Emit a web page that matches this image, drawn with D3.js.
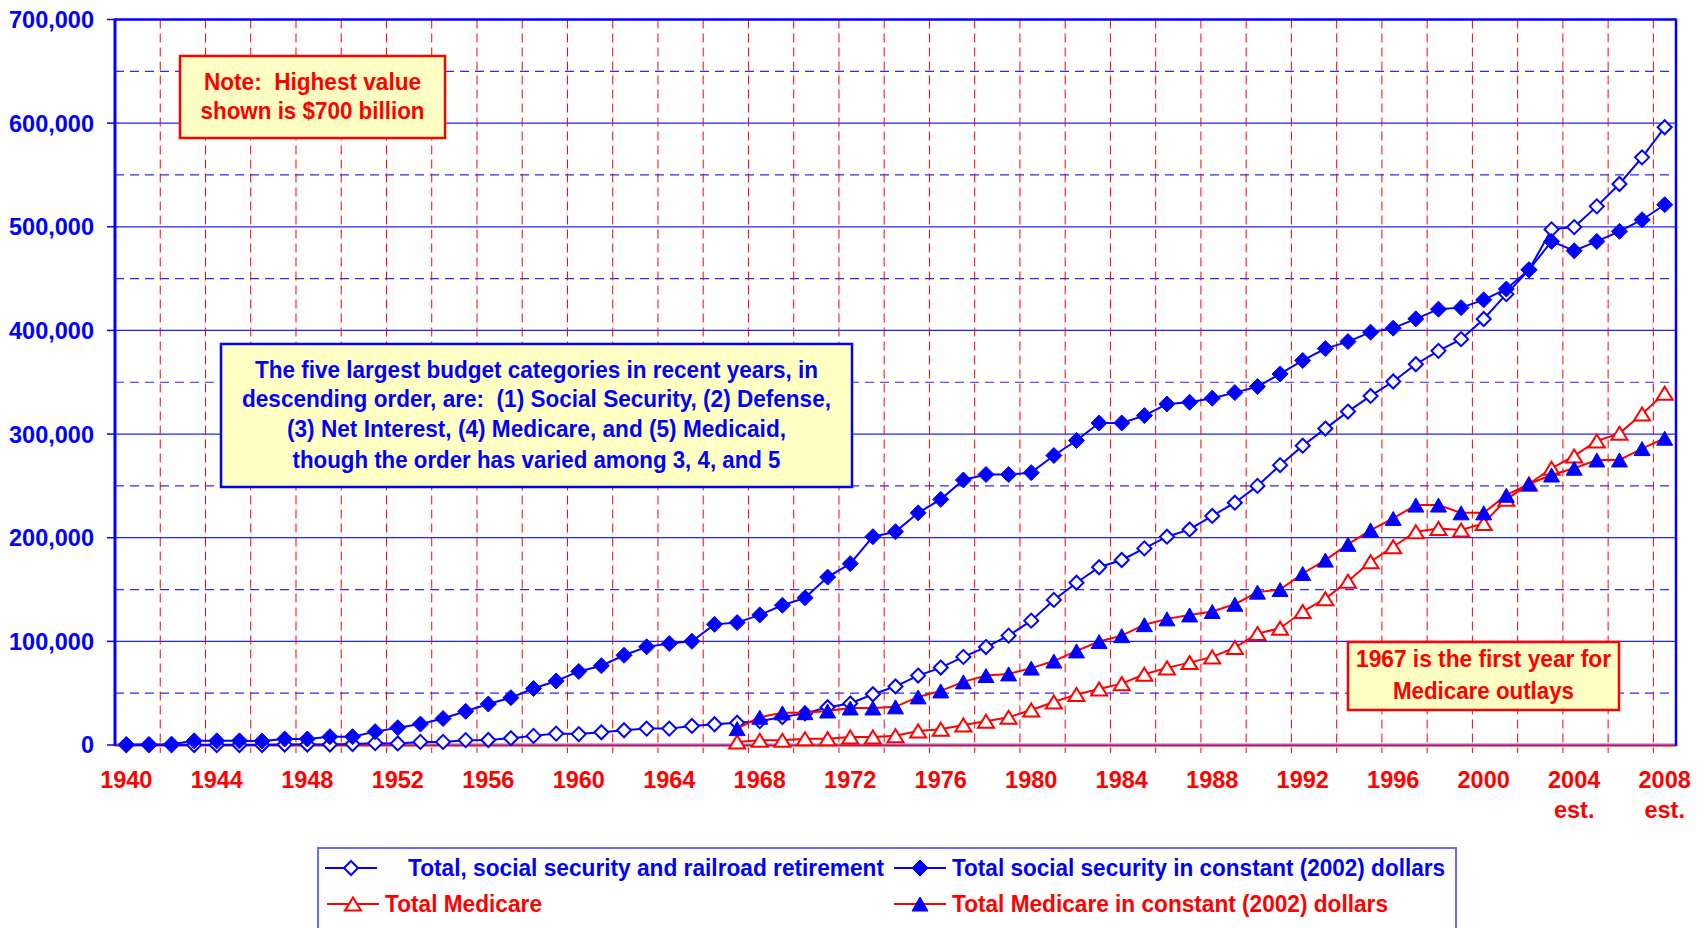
<!DOCTYPE html>
<html>
<head>
<meta charset="utf-8">
<script src="https://cdn.jsdelivr.net/npm/d3@7"></script>
<style>
body { margin: 0; background: #fff; }
text { font-family: "Liberation Sans", Arial, sans-serif; font-weight: bold; white-space: pre; }
</style>
</head>
<body>
<div id="chart"></div>
<script>
// data, millions of dollars
var years = d3.range(1940, 2009);
var medYears = d3.range(1967, 2009);

var ssTotal = [0, 0, 0, 0, 0, 0, 0, 500, 500, 500,
  1000, 1800, 1500, 3000, 3000, 4700, 4800, 6500, 8800, 11000,
  10500, 12300, 14200, 15800, 15800, 18400, 20000, 21500, 23000, 27000,
  30500, 36500, 40000, 49000, 56500, 67000, 74700, 85000, 94500, 105500,
  120000, 140000, 156600, 171500, 178500, 189700, 201000, 208000, 221000, 233800,
  250000, 270000, 288800, 305300, 321700, 336800, 350700, 367400, 380300, 391600,
  411000, 435000, 458500, 497500, 499700, 519700, 541300, 567000, 596000];

var ssConst = [500, 500, 800, 4000, 4000, 4000, 3800, 5800, 5800, 8000,
  8000, 12900, 16700, 20200, 25500, 32500, 39500, 45700, 54500, 61800,
  71000, 76500, 86600, 94700, 97900, 100100, 116400, 118100, 125500, 134800,
  142000, 162000, 175000, 201000, 205800, 224000, 237000, 255700, 261000, 261000,
  262800, 279300, 293800, 310700, 310700, 317800, 329000, 330700, 334600, 340000,
  345800, 358000, 371000, 382500, 389200, 398300, 402200, 411200, 420500, 422000,
  429500, 440000, 458500, 485900, 476900, 485900, 495600, 506800, 521300];

var medTotal = [2900, 4500, 4500, 6100, 6100, 7700, 7700, 9000, 13500, 15200,
  19300, 23000, 26700, 33800, 41500, 48800, 54100, 59200, 68300, 74400,
  79500, 85000, 94000, 107500, 112700, 128800, 141200, 158000, 176800, 191300,
  205800, 209000, 207400, 213800, 237000, 251800, 267000, 278900, 293300, 300700,
  319400, 339400];

var medConst = [15800, 26800, 31000, 31200, 32800, 35700, 35700, 36800, 46400, 52200,
  60900, 67000, 68600, 74200, 81000, 90800, 99800, 105500, 116100, 121700,
  125500, 128800, 135800, 147500, 150000, 165500, 178400, 193600, 207400, 218600,
  231500, 231500, 224000, 224000, 241000, 251800, 260500, 267000, 275000, 275000,
  286000, 296000];

var xLabels = d3.range(1940, 2009, 4);
var estYears = [2004, 2008];
var yTicks = [0, 100000, 200000, 300000, 400000, 500000, 600000, 700000];
var yMinor = [50000, 150000, 250000, 350000, 450000, 550000, 650000];

var legendNames = ['Total, social security and railroad retirement',
  'Total social security in constant (2002) dollars',
  'Total Medicare',
  'Total Medicare in constant (2002) dollars'];

var noteLines = ['Note:  Highest value', 'shown is $700 billion'];
var infoLines = ['The five largest budget categories in recent years, in',
  'descending order, are:  (1) Social Security, (2) Defense,',
  '(3) Net Interest, (4) Medicare, and (5) Medicaid,',
  'though the order has varied among 3, 4, and 5'];
var firstLines = ['1967 is the first year for', 'Medicare outlays'];

var BLUE = '#0000ff', RED = '#ff0000';

var W = 1700, H = 928;
var pL = 115, pR = 1676, pT = 19.5, pB = 745;

var svg = d3.select('#chart')
  .append('svg')
  .attr('width', W)
  .attr('height', H);

var x = d3.scaleBand()
  .domain(years)
  .range([pL, pR])
  .padding(0);
var bw = x.bandwidth();
var cx = function(yr) { return x(yr) + bw / 2; };

var y = d3.scaleLinear()
  .domain([0, 700000])
  .range([pB, pT]);

// minor horizontal grid (dashed)
svg.append('g').selectAll('line')
  .data(yMinor).enter().append('line')
  .attr('x1', pL).attr('x2', pR)
  .attr('y1', function(d) { return y(d); })
  .attr('y2', function(d) { return y(d); })
  .attr('stroke', '#2a2aff').attr('stroke-width', 1.2)
  .attr('stroke-dasharray', '9,6');

// major horizontal grid
svg.append('g').selectAll('line')
  .data(yTicks.slice(1, -1)).enter().append('line')
  .attr('x1', pL).attr('x2', pR)
  .attr('y1', function(d) { return y(d); })
  .attr('y2', function(d) { return y(d); })
  .attr('stroke', '#2020ff').attr('stroke-width', 1.2);

// vertical red dashed grid, every second category boundary
var bounds = d3.range(2, years.length, 2);
svg.append('g').selectAll('line')
  .data(bounds).enter().append('line')
  .attr('x1', function(k) { return pL + k * bw; })
  .attr('x2', function(k) { return pL + k * bw; })
  .attr('y1', pT).attr('y2', pB + 8)
  .attr('stroke', RED).attr('stroke-width', 1)
  .attr('stroke-dasharray', '9,5');

// axes / frame
svg.append('line').attr('x1', pL).attr('x2', pR)
  .attr('y1', pB - 0.8).attr('y2', pB - 0.8)
  .attr('stroke', '#6a6aff').attr('stroke-width', 1.5);
svg.append('line').attr('x1', pL).attr('x2', pR)
  .attr('y1', pB + 0.8).attr('y2', pB + 0.8)
  .attr('stroke', RED).attr('stroke-width', 1.5);
svg.append('line').attr('x1', pL).attr('x2', pR)
  .attr('y1', pT).attr('y2', pT)
  .attr('stroke', BLUE).attr('stroke-width', 2.5);
svg.append('line').attr('x1', pR).attr('x2', pR)
  .attr('y1', pT - 1).attr('y2', pB + 1)
  .attr('stroke', BLUE).attr('stroke-width', 2.5);
svg.append('line').attr('x1', pL).attr('x2', pL)
  .attr('y1', pT - 1).attr('y2', pB + 1)
  .attr('stroke', BLUE).attr('stroke-width', 3);

// y ticks + labels
svg.append('g').selectAll('line')
  .data(yTicks).enter().append('line')
  .attr('x1', pL - 8).attr('x2', pL)
  .attr('y1', function(d) { return y(d); })
  .attr('y2', function(d) { return y(d); })
  .attr('stroke', BLUE).attr('stroke-width', 1.5);
svg.append('g').selectAll('text')
  .data(yTicks).enter().append('text')
  .attr('x', 94)
  .attr('y', function(d) { return y(d); })
  .attr('dy', '0.36em')
  .attr('text-anchor', 'end')
  .attr('fill', BLUE)
  .style('font-size', '23.5px')
  .text(function(d) { return d3.format(',')(d); });

// x labels
svg.append('g').selectAll('text')
  .data(xLabels).enter().append('text')
  .attr('x', function(d) { return cx(d); })
  .attr('y', 780)
  .attr('dy', '0.36em')
  .attr('text-anchor', 'middle')
  .attr('fill', RED)
  .style('font-size', '23.5px')
  .text(function(d) { return d; });
svg.append('g').selectAll('text')
  .data(estYears).enter().append('text')
  .attr('x', function(d) { return cx(d); })
  .attr('y', 810)
  .attr('dy', '0.36em')
  .attr('text-anchor', 'middle')
  .attr('fill', RED)
  .style('font-size', '23.5px')
  .text('est.');

// markers
var diamond = function(r) { return 'M0,' + (-r) + 'L' + r + ',0L0,' + r + 'L' + (-r) + ',0Z'; };
var triangle = function(w, h) { return 'M0,' + (-h / 2) + 'L' + (w / 2) + ',' + (h / 2) + 'L' + (-w / 2) + ',' + (h / 2) + 'Z'; };

var series = [
  {name: legendNames[0], xs: years, vals: ssTotal, line: BLUE, path: diamond(7), fill: '#fff', stroke: BLUE, sw: 2},
  {name: legendNames[1], xs: years, vals: ssConst, line: BLUE, path: diamond(8), fill: BLUE, stroke: BLUE, sw: 1},
  {name: legendNames[2], xs: medYears, vals: medTotal, line: RED, path: triangle(16, 13), fill: '#fff', stroke: RED, sw: 2},
  {name: legendNames[3], xs: medYears, vals: medConst, line: RED, path: triangle(16, 14), fill: BLUE, stroke: BLUE, sw: 1}
];

var line = d3.line()
  .x(function(d) { return cx(d[0]); })
  .y(function(d) { return y(d[1]); });

series.forEach(function(s) {
  var pts = s.xs.map(function(yr, i) { return [yr, s.vals[i]]; });
  svg.append('path')
    .datum(pts)
    .attr('d', line)
    .attr('fill', 'none')
    .attr('stroke', s.line)
    .attr('stroke-width', 2);
  svg.append('g').selectAll('path')
    .data(pts).enter().append('path')
    .attr('d', s.path)
    .attr('transform', function(d) { return 'translate(' + cx(d[0]) + ',' + y(d[1]) + ')'; })
    .attr('fill', s.fill)
    .attr('stroke', s.stroke)
    .attr('stroke-width', s.sw);
});

// text boxes
function textBox(x0, y0, w, h, border, color, lines, lineY, widths) {
  svg.append('rect')
    .attr('x', x0).attr('y', y0).attr('width', w).attr('height', h)
    .attr('fill', '#ffffc4')
    .attr('stroke', border).attr('stroke-width', 2.5);
  lines.forEach(function(t, i) {
    svg.append('text')
      .attr('x', x0 + w / 2)
      .attr('y', lineY[i])
      .attr('dy', '0.36em')
      .attr('text-anchor', 'middle')
      .attr('fill', color)
      .style('font-size', '24px')
      .attr('textLength', widths[i])
      .attr('lengthAdjust', 'spacingAndGlyphs')
      .text(t);
  });
}
textBox(180, 56, 265, 82, RED, RED, noteLines, [81, 110], [217, 224]);
textBox(221, 344, 631, 143, BLUE, BLUE, infoLines, [369, 398, 428, 459], [563, 589, 499, 488]);
textBox(1348, 642, 271, 68, RED, RED, firstLines, [658, 690], [255, 181]);

// legend
svg.append('rect')
  .attr('x', 318).attr('y', 848).attr('width', 1138).attr('height', 120)
  .attr('fill', '#fff')
  .attr('stroke', '#6a6aff').attr('stroke-width', 2);

var legendPos = [
  {lx: 325, ly: 868, tx: 408, tw: 476, color: BLUE},
  {lx: 894, ly: 868, tx: 952, tw: 493, color: BLUE},
  {lx: 327, ly: 904, tx: 385, tw: 157, color: RED},
  {lx: 894, ly: 904, tx: 952, tw: 436, color: RED}
];
series.forEach(function(s, i) {
  var p = legendPos[i];
  svg.append('line')
    .attr('x1', p.lx).attr('x2', p.lx + 52)
    .attr('y1', p.ly).attr('y2', p.ly)
    .attr('stroke', s.line).attr('stroke-width', 2);
  svg.append('path')
    .attr('d', s.path)
    .attr('transform', 'translate(' + (p.lx + 26) + ',' + p.ly + ')')
    .attr('fill', s.fill)
    .attr('stroke', s.stroke)
    .attr('stroke-width', s.sw);
  svg.append('text')
    .attr('x', p.tx).attr('y', p.ly)
    .attr('dy', '0.36em')
    .attr('fill', p.color)
    .style('font-size', '23.5px')
    .attr('textLength', p.tw)
    .attr('lengthAdjust', 'spacingAndGlyphs')
    .text(s.name);
});
</script>
</body>
</html>
